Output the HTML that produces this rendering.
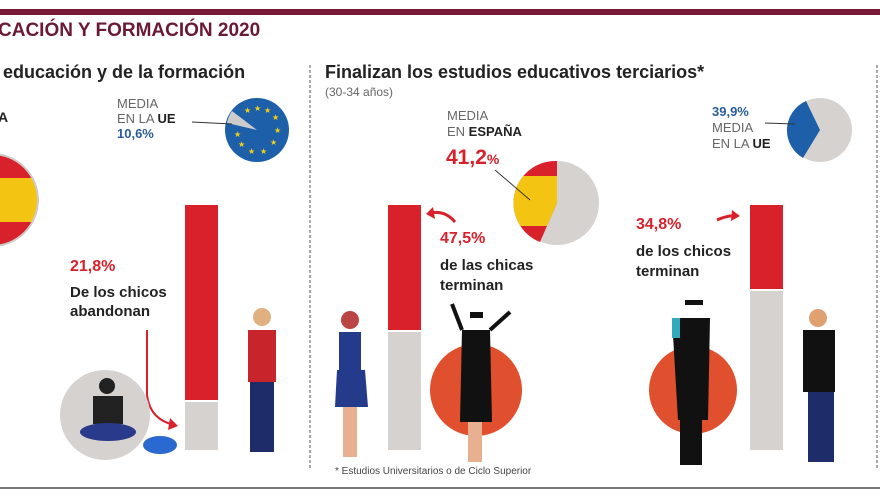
<!DOCTYPE html>
<html><head><meta charset="utf-8"><style>
body{margin:0;width:880px;height:495px;background:#fff;overflow:hidden;position:relative;font-family:"Liberation Sans",sans-serif;}
.t{position:absolute;white-space:nowrap;}
.red{color:#d8212b;}
.b{font-weight:bold;}
</style></head><body>
<div style="position:absolute;left:0;top:9px;width:880px;height:6px;background:#7a1838"></div>
<div class="t b" style="left:-2px;top:20px;font-size:19px;color:#6a1a35">CACIÓN Y FORMACIÓN 2020</div>
<div class="t b" style="left:3px;top:62px;font-size:18px;color:#222">educación y de la formación</div>
<div class="t b" style="left:325px;top:62px;font-size:18px;color:#222">Finalizan los estudios educativos terciarios*</div>
<div class="t" style="left:325px;top:85px;font-size:12px;color:#666">(30-34 años)</div>
<div class="t b" style="left:-2px;top:109px;font-size:14px;color:#222">A</div>

<div class="t" style="left:117px;top:96px;font-size:13px;line-height:15px;color:#666">MEDIA<br>EN LA <b style="color:#222">UE</b><br><b style="color:#2a5d9a">10,6%</b></div>
<div class="t" style="left:447px;top:108px;font-size:13px;line-height:16px;color:#666">MEDIA<br>EN <b style="color:#222">ESPAÑA</b></div>
<div class="t b red" style="left:446px;top:146px;font-size:21px">41,2<span style="font-size:14px">%</span></div>
<div class="t" style="left:712px;top:104px;font-size:13px;line-height:16px;color:#666"><b style="color:#2a5d9a">39,9%</b><br>MEDIA<br>EN LA <b style="color:#222">UE</b></div>

<div class="t b red" style="left:70px;top:258px;font-size:16px">21,8%</div>
<div class="t b" style="left:70px;top:283px;font-size:15px;line-height:19px;color:#222">De los chicos<br>abandonan</div>
<div class="t b red" style="left:440px;top:230px;font-size:16px">47,5%</div>
<div class="t b" style="left:440px;top:256px;font-size:15px;line-height:20px;color:#222">de las chicas<br>terminan</div>
<div class="t b red" style="left:636px;top:216px;font-size:16px">34,8%</div>
<div class="t b" style="left:636px;top:242px;font-size:15px;line-height:20px;color:#222">de los chicos<br>terminan</div>
<div class="t" style="left:335px;top:466px;font-size:10px;color:#444">* Estudios Universitarios o de Ciclo Superior</div>

<svg width="880" height="495" style="position:absolute;left:0;top:0">
<defs>
<clipPath id="c1"><circle cx="-8" cy="200" r="46"/></clipPath>
<clipPath id="c2"><path d="M557 203 L557 161 A42 42 0 0 0 540 242 Z"/></clipPath>
</defs>
<line x1="310" y1="65" x2="310" y2="470" stroke="#555" stroke-dasharray="3,2"/>
<line x1="877" y1="65" x2="877" y2="470" stroke="#555" stroke-dasharray="3,2"/>
<line x1="0" y1="488" x2="880" y2="488" stroke="#777" stroke-width="2"/>
<g clip-path="url(#c1)"><rect x="-60" y="150" width="110" height="100" fill="#d8212b"/><rect x="-60" y="178" width="110" height="44" fill="#f4c413"/></g>
<circle cx="-8" cy="200" r="46" fill="none" stroke="#ccc" stroke-width="2"/>
<circle cx="257" cy="130" r="32" fill="#1d5fa8"/>
<path d="M257 130 L227 123 A32 32 0 0 1 232 111 Z" fill="#ccc"/>
<g fill="#f4d313" font-size="8"><text x="244" y="113">★</text><text x="254" y="111">★</text><text x="264" y="113">★</text><text x="272" y="120">★</text><text x="274" y="133">★</text><text x="270" y="145">★</text><text x="260" y="154">★</text><text x="248" y="154">★</text><text x="238" y="147">★</text><text x="234" y="137">★</text></g>
<line x1="192" y1="122" x2="232" y2="124" stroke="#333"/>
<rect x="185" y="205" width="33" height="195" fill="#d8212b"/><rect x="185" y="402" width="33" height="48" fill="#d5d2d0"/>
<rect x="388" y="205" width="33" height="125" fill="#d8212b"/><rect x="388" y="332" width="33" height="118" fill="#d5d2d0"/>
<rect x="750" y="205" width="33" height="84" fill="#d8212b"/><rect x="750" y="291" width="33" height="159" fill="#d5d2d0"/>
<circle cx="557" cy="203" r="42" fill="#d5d2d0"/>
<g clip-path="url(#c2)"><rect x="500" y="150" width="60" height="100" fill="#d8212b"/><rect x="500" y="176" width="60" height="50" fill="#f4c413"/></g>
<line x1="495" y1="170" x2="530" y2="200" stroke="#333"/>
<circle cx="820" cy="130" r="32" fill="#d5d2d0"/>
<path d="M820 130 L806 101 A32 32 0 0 0 803 158 Z" fill="#1d5fa8"/>
<line x1="765" y1="123" x2="795" y2="124" stroke="#333"/>
<path d="M147 330 L147 395 Q150 420 175 425" stroke="#d8212b" stroke-width="2" fill="none"/>
<path d="M170 418 L178 426 L168 430Z" fill="#d8212b"/>
<path d="M455 222 Q445 210 430 213" stroke="#d8212b" stroke-width="3" fill="none"/><path d="M433 207 L426 214 L435 219Z" fill="#d8212b"/>
<path d="M717 220 Q728 215 735 216" stroke="#d8212b" stroke-width="3" fill="none"/><path d="M732 210 L740 216 L731 221Z" fill="#d8212b"/>
<circle cx="105" cy="415" r="45" fill="#d5d2d0"/>
<circle cx="476" cy="390" r="46" fill="#e0502e"/>
<circle cx="693" cy="390" r="44" fill="#e0502e"/>
<g>
<circle cx="107" cy="386" r="8" fill="#222"/><rect x="93" y="396" width="30" height="28" fill="#222"/><ellipse cx="108" cy="432" rx="28" ry="9" fill="#2a3a8a"/>
<ellipse cx="160" cy="445" rx="17" ry="9" fill="#2a6ad0"/>
<circle cx="262" cy="317" r="9" fill="#e0b080"/><rect x="248" y="330" width="28" height="52" fill="#c8242b"/><rect x="250" y="382" width="24" height="70" fill="#1e2d6a"/>
<circle cx="350" cy="320" r="9" fill="#b44"/><rect x="339" y="332" width="22" height="40" fill="#233b8a"/><path d="M337 370 L365 370 L368 407 L335 407Z" fill="#233b8a"/><rect x="343" y="407" width="14" height="50" fill="#e8b090"/>
<rect x="470" y="312" width="13" height="6" fill="#111"/><path d="M462 330 L490 330 L492 422 L460 422Z" fill="#111"/><line x1="462" y1="330" x2="452" y2="304" stroke="#111" stroke-width="4"/><line x1="490" y1="330" x2="510" y2="312" stroke="#111" stroke-width="4"/><rect x="468" y="422" width="14" height="40" fill="#e8b090"/>
<rect x="685" y="300" width="18" height="5" fill="#111"/><path d="M672 318 L710 318 L708 420 L678 420Z" fill="#111"/><rect x="672" y="318" width="8" height="20" fill="#3ab"/><rect x="680" y="420" width="22" height="45" fill="#111"/>
<circle cx="818" cy="318" r="9" fill="#e0a070"/><rect x="803" y="330" width="32" height="62" fill="#111"/><rect x="808" y="392" width="26" height="70" fill="#1e2d6a"/>
</g>
</svg>
</body></html>
